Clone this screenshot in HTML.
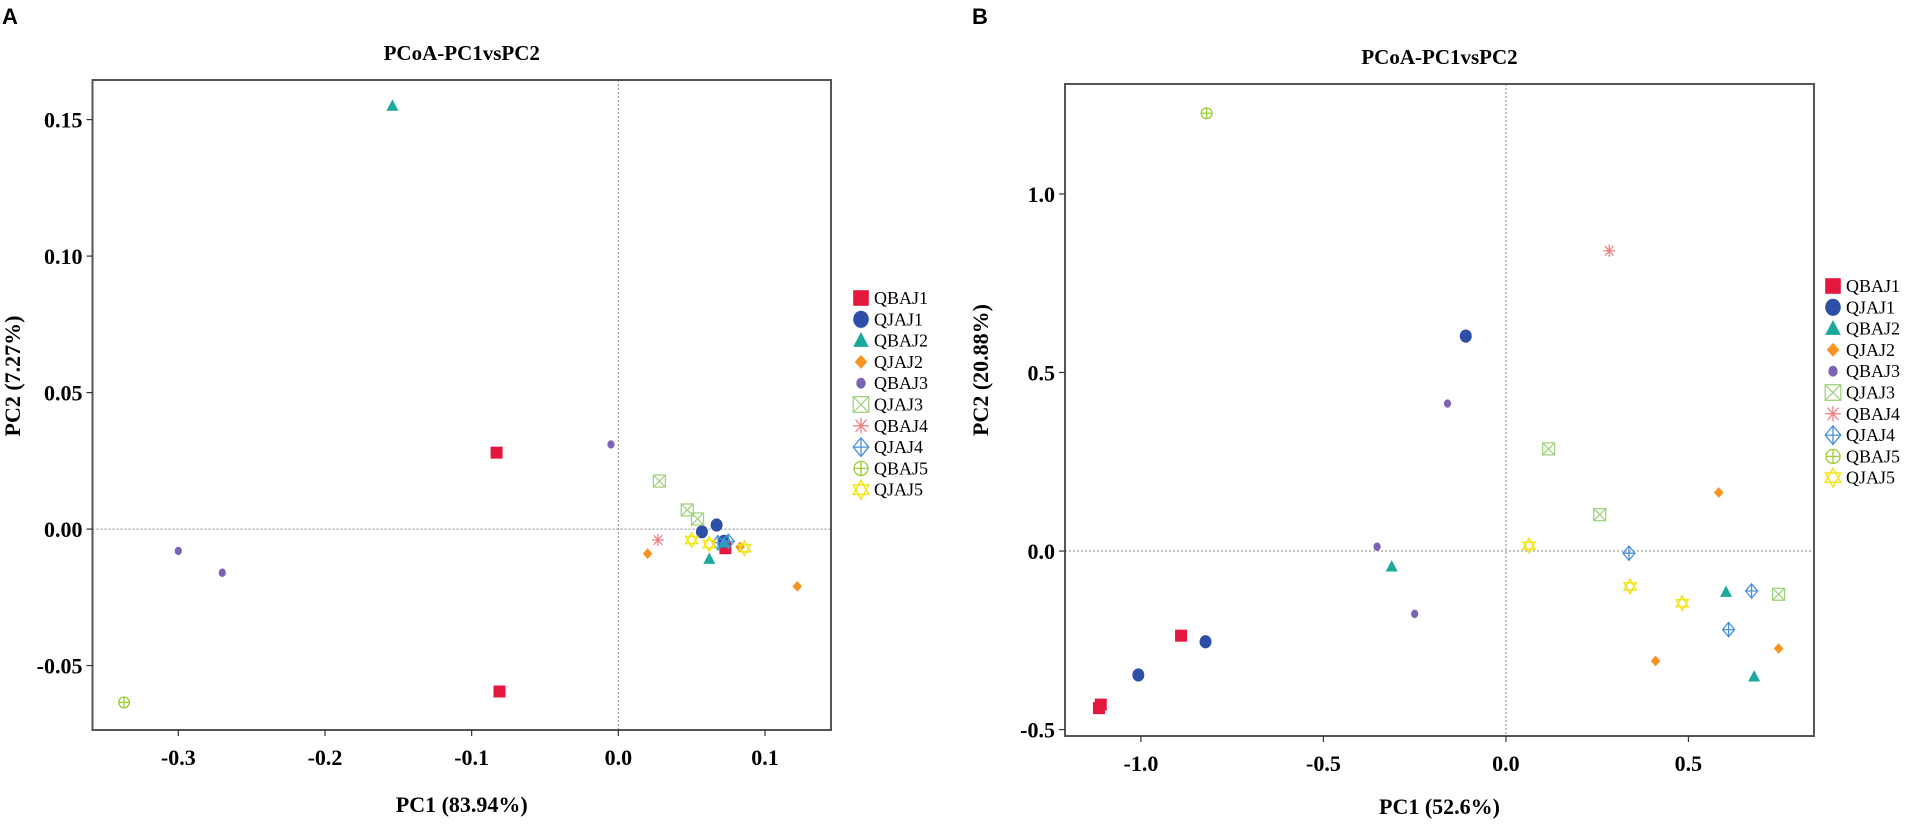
<!DOCTYPE html>
<html><head><meta charset="utf-8">
<style>
html,body{margin:0;padding:0;background:#fff;}
svg{display:block;font-family:"Liberation Serif",serif;}
.lab{font-family:"Liberation Sans",sans-serif;font-weight:bold;font-size:22px;}
</style></head>
<body>
<svg id="chart" width="1909" height="824" viewBox="0 0 1909 824"></svg>
<script>
const groups = ["QBAJ1","QJAJ1","QBAJ2","QJAJ2","QBAJ3","QJAJ3","QBAJ4","QJAJ4","QBAJ5","QJAJ5"];
const colors = ["#e4173e","#2e4fa8","#1aa99a","#f7931e","#7b64b5","#9fd37f","#f28080","#4a90d9","#9acd32","#f2e51a"];
const shapes = ["square","circle","triangle","diamond","smallcircle","xbox","asterisk","diamondplus","circleplus","david"];

const aX = [[-0.083,-0.081,0.073],[0.057,0.067,0.072],[-0.154,0.062,0.072],[0.020,0.122,0.083],[-0.005,-0.300,-0.270],[0.028,0.047,0.054],[0.027],[0.075,0.068],[-0.337],[0.050,0.062,0.086]];
const aY = [[0.028,-0.0595,-0.007],[-0.001,0.0015,-0.0045],[0.155,-0.011,-0.005],[-0.009,-0.021,-0.0065],[0.031,-0.008,-0.016],[0.0176,0.007,0.0037],[-0.004],[-0.0045,-0.005],[-0.0635],[-0.004,-0.0055,-0.007]];
const bX = [[-0.89,-1.11,-1.115],[-0.11,-0.823,-1.007],[-0.313,0.603,0.68],[0.583,0.41,0.747],[-0.16,-0.353,-0.25],[0.117,0.257,0.747],[0.283],[0.337,0.673,0.61],[-0.82],[0.063,0.34,0.483]];
const bY = [[-0.237,-0.43,-0.44],[0.602,-0.254,-0.347],[-0.044,-0.115,-0.352],[0.164,-0.308,-0.273],[0.413,0.012,-0.176],[0.286,0.102,-0.121],[0.841],[-0.006,-0.112,-0.22],[1.226],[0.015,-0.099,-0.146]];
const aXTicks = [-0.3,-0.2,-0.1,0.0,0.1];
const aXTickLabels = ["-0.3","-0.2","-0.1","0.0","0.1"];
const aYTicks = [0.15,0.10,0.05,0.00,-0.05];
const aYTickLabels = ["0.15","0.10","0.05","0.00","-0.05"];
const bXTicks = [-1.0,-0.5,0.0,0.5];
const bXTickLabels = ["-1.0","-0.5","0.0","0.5"];
const bYTicks = [1.0,0.5,0.0,-0.5];
const bYTickLabels = ["1.0","0.5","0.0","-0.5"];

const NS="http://www.w3.org/2000/svg";
const svg=document.getElementById('chart');
function el(tag,attrs,parent){const e=document.createElementNS(NS,tag);for(const k in attrs)e.setAttribute(k,attrs[k]);(parent||svg).appendChild(e);return e;}
function txt(s,attrs,parent){const t=el('text',attrs,parent);t.textContent=s;return t;}

function marker(g,shape,cx,cy,c,s){
  s=s||1;
  const r=6*s;
  if(shape==="square") el('rect',{x:cx-r,y:cy-r,width:2*r,height:2*r,fill:c},g);
  else if(shape==="circle") el('ellipse',{cx,cy,rx:r,ry:r*1.1,fill:c},g);
  else if(shape==="triangle") el('polygon',{points:`${cx},${cy-r*1.1} ${cx-r},${cy+r*0.8} ${cx+r},${cy+r*0.8}`,fill:c},g);
  else if(shape==="diamond") el('polygon',{points:`${cx},${cy-r*0.9} ${cx+r*0.8},${cy} ${cx},${cy+r*0.9} ${cx-r*0.8},${cy}`,fill:c},g);
  else if(shape==="smallcircle") el('ellipse',{cx,cy,rx:r*0.6,ry:r*0.7,fill:c},g);
  else if(shape==="xbox"){el('rect',{x:cx-r,y:cy-r,width:2*r,height:2*r,fill:'none',stroke:c,'stroke-width':1.3},g);el('path',{d:`M${cx-r},${cy-r}L${cx+r},${cy+r}M${cx+r},${cy-r}L${cx-r},${cy+r}`,stroke:c,'stroke-width':1.3},g);}
  else if(shape==="asterisk"){el('path',{d:`M${cx-r},${cy}L${cx+r},${cy}M${cx-r*.7},${cy-r*.8}L${cx+r*.7},${cy+r*.8}M${cx+r*.7},${cy-r*.8}L${cx-r*.7},${cy+r*.8}M${cx},${cy-r}L${cx},${cy+r}`,stroke:c,'stroke-width':1.3},g);}
  else if(shape==="diamondplus"){el('polygon',{points:`${cx},${cy-r*1.2} ${cx+r},${cy} ${cx},${cy+r*1.2} ${cx-r},${cy}`,fill:'none',stroke:c,'stroke-width':1.3},g);el('path',{d:`M${cx-r},${cy}L${cx+r},${cy}M${cx},${cy-r*1.2}L${cx},${cy+r*1.2}`,stroke:c,'stroke-width':1.3},g);}
  else if(shape==="circleplus"){el('circle',{cx,cy,r:r*0.9,fill:'none',stroke:c,'stroke-width':1.3},g);el('path',{d:`M${cx-r*.9},${cy}L${cx+r*.9},${cy}M${cx},${cy-r*.9}L${cx},${cy+r*.9}`,stroke:c,'stroke-width':1.3},g);}
  else if(shape==="david"){el('polygon',{points:`${cx},${cy-r*1.2} ${cx+r},${cy+r*0.6} ${cx-r},${cy+r*0.6}`,fill:'none',stroke:c,'stroke-width':1.5},g);el('polygon',{points:`${cx},${cy+r*1.2} ${cx+r},${cy-r*0.6} ${cx-r},${cy-r*0.6}`,fill:'none',stroke:c,'stroke-width':1.5},g);}
}

function panel(cfg){
  const g=el('g',{});
  
  
  const {L,R,T,B,x0,x1,y0,y1}=cfg;
  const sx=v=>L+(v-x0)/(x1-x0)*(R-L);
  const sy=v=>B-(v-y0)/(y1-y0)*(B-T);
  const lab=txt(cfg.letter,{x:cfg.letterX,y:24,class:'lab'},g);
  
  
  const title=txt('PCoA-PC1vsPC2',{x:(L+R)/2,y:cfg.titleY,'text-anchor':'middle','font-size':21,'font-weight':'bold'},g);
  
  
  const zx=el('line',{x1:sx(0),x2:sx(0),y1:T,y2:B,stroke:'#888','stroke-width':1,'stroke-dasharray':'2,2'},g);
  
  
  const zy=el('line',{x1:L,x2:R,y1:sy(0),y2:sy(0),stroke:'#888','stroke-width':1,'stroke-dasharray':'2,2'},g);
  
  
  const frame=el('rect',{x:L,y:T,width:R-L,height:B-T,fill:'none',stroke:'#555','stroke-width':2},g);
  
  
  cfg.xt.forEach((v,i)=>{
    el('line',{x1:sx(v),x2:sx(v),y1:B,y2:B+6,stroke:'#333','stroke-width':1.2},g);
    const t=txt(cfg.xtl[i],{x:sx(v),y:B+35,'text-anchor':'middle','font-size':22,'font-weight':'bold'},g);
    
    
  });
  cfg.yt.forEach((v,i)=>{
    el('line',{x1:L-6,x2:L,y1:sy(v),y2:sy(v),stroke:'#333','stroke-width':1.2},g);
    const t=txt(cfg.ytl[i],{x:L-10,y:sy(v)+8,'text-anchor':'end','font-size':22,'font-weight':'bold'},g);
    
    
  });
  const xtitle=txt(cfg.xTitle,{x:(L+R)/2,y:cfg.xTitleY,'text-anchor':'middle','font-size':22,'font-weight':'bold'},g);
  
  
  const ytitle=txt(cfg.yTitle,{x:0,y:0,'text-anchor':'middle','font-size':22,'font-weight':'bold',transform:`translate(${cfg.yTitleX},${cfg.yTitleY}) rotate(-90)`},g);
  
  
  groups.forEach((gname,i)=>{
    cfg.X[i].forEach((xv,j)=>{
      const pg=el('g',{},g);
      
      
      marker(pg,shapes[i],sx(xv),sy(cfg.Y[i][j]),colors[i],1);
    });
    const ly=cfg.legY+i*cfg.legStep;
    const lg=el('g',{},g);
    
    
    marker(lg,shapes[i],cfg.legX,ly,colors[i],1.3);
    txt(gname,{x:cfg.legX+13,y:ly+6,'font-size':18},lg);
  });
}
panel({name:'panel-a',letter:'A',letterX:2,L:92.5,R:831,T:80,B:730,x0:-0.3585,x1:0.145,y0:-0.0736,y1:0.1645,
  titleY:60,xt:aXTicks,xtl:aXTickLabels,yt:aYTicks,ytl:aYTickLabels,xTitle:'PC1 (83.94%)',xTitleY:812,
  yTitle:'PC2 (7.27%)',yTitleX:20,yTitleY:376,X:aX,Y:aY,legX:861,legY:298,legStep:21.3});
panel({name:'panel-b',letter:'B',letterX:972,L:1065,R:1814,T:84,B:736,x0:-1.208,x1:0.844,y0:-0.518,y1:1.308,
  titleY:64,xt:bXTicks,xtl:bXTickLabels,yt:bYTicks,ytl:bYTickLabels,xTitle:'PC1 (52.6%)',xTitleY:814,
  yTitle:'PC2 (20.88%)',yTitleX:988,yTitleY:370,X:bX,Y:bY,legX:1833,legY:286,legStep:21.3});
</script>
</body></html>
